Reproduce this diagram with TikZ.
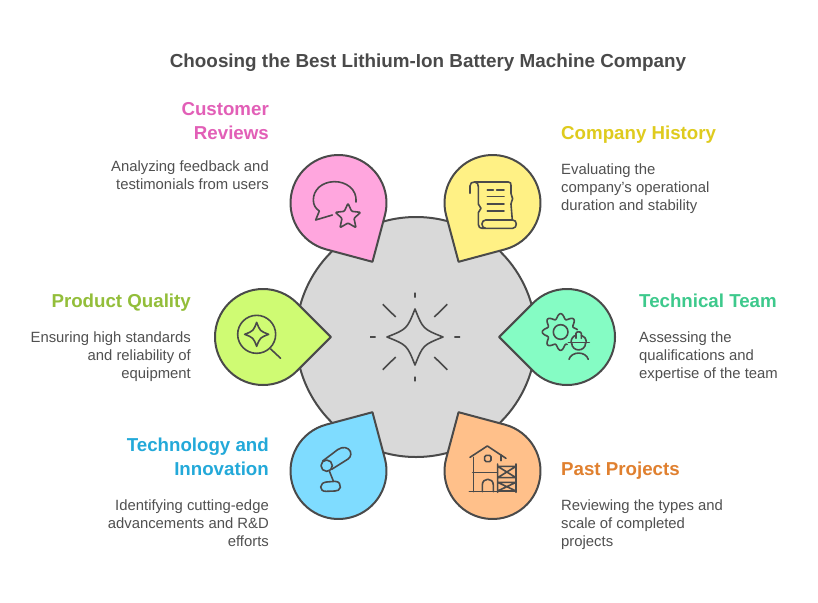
\documentclass[tikz,border=0pt]{standalone}
\usepackage{fontspec}
\setmainfont{Liberation Sans}
\definecolor{ink}{HTML}{4A4A4A}
\definecolor{bodyink}{HTML}{505050}
\definecolor{hub}{HTML}{D9D9D9}
\definecolor{cpink}{HTML}{FFA6DE}
\definecolor{cyellow}{HTML}{FFF185}
\definecolor{cgreen}{HTML}{CFFB73}
\definecolor{cteal}{HTML}{85FCC4}
\definecolor{cblue}{HTML}{7FDCFF}
\definecolor{corange}{HTML}{FFC08A}
\definecolor{tpink}{HTML}{E25FB7}
\definecolor{tyellow}{HTML}{DFCB1E}
\definecolor{tgreen}{HTML}{93BE3A}
\definecolor{tteal}{HTML}{3DC98C}
\definecolor{tblue}{HTML}{23A9D9}
\definecolor{torange}{HTML}{E0802F}
\tikzset{
  outline/.style={draw=ink,line width=2pt,line join=round},
  glyph/.style={draw=ink,line width=1.6pt,line cap=round,line join=round},
  headtext/.style={inner sep=0pt,font=\fontsize{18.7}{24}\selectfont\bfseries},
  titletext/.style={inner sep=0pt,font=\fontsize{18.85}{24}\selectfont\bfseries},
  bodytext/.style={inner sep=0pt,text=bodyink,font=\fontsize{14.85}{18}\selectfont},
  toleft/.style={align=right,anchor=north east},
  toright/.style={align=left,anchor=north west},
}
\newcommand{\petal}[4]{%
  \begin{scope}[shift={(#1,#2)},rotate=#3]
    \path[outline,fill=#4] (67.9pt,0pt) -- (33.94pt,33.94pt)
      arc[start angle=45,end angle=315,radius=48pt] -- cycle;
  \end{scope}}
\newcommand{\sparkle}[4]{% centre x,y, radius, bend
  (#1-#3,#2) .. controls (#1-#4,#2-#4) and (#1-#4,#2-#4) .. (#1,#2-#3)
  .. controls (#1+#4,#2-#4) and (#1+#4,#2-#4) .. (#1+#3,#2)
  .. controls (#1+#4,#2+#4) and (#1+#4,#2+#4) .. (#1,#2+#3)
  .. controls (#1-#4,#2+#4) and (#1-#4,#2+#4) .. (#1-#3,#2) -- cycle}
\begin{document}
\begin{tikzpicture}[x=1pt,y=-1pt]
\useasboundingbox (0,0) rectangle (818,602);
\fill[white] (0,0) rectangle (818,602);
\node[titletext,text=ink,anchor=base] (title) at (428,67) {Choosing the Best Lithium-Ion Battery Machine Company};
% hub
\path[outline,fill=hub] (416,337) circle[radius=120pt];
% petals
\petal{338.5}{203}{-60}{cpink}
\petal{492.5}{203}{-120}{cyellow}
\petal{263}{337}{0}{cgreen}
\petal{567}{337}{180}{cteal}
\petal{338.5}{471}{60}{cblue}
\petal{492.5}{471}{120}{corange}
% centre sparkle
\draw[glyph] \sparkle{415}{337}{28}{8};
\draw[glyph,line cap=butt]
  (415,292.7)--(415,297.5) (415,376.5)--(415,381.3)
  (370,337)--(375.7,337) (454.3,337)--(460,337)
  (382.7,304.3)--(395.7,317) (447.3,304.3)--(434.3,317)
  (382.7,369.7)--(395.7,357) (447.3,369.7)--(434.3,357);
% pink icon
\begin{scope}[shift={(280,140)},x=.3333pt,y=-.3333pt]
  \draw[glyph] (228,186) .. controls (232,148) and (198,124) .. (162,125)
    .. controls (125,126) and (100,150) .. (100,180)
    .. controls (100,195) and (107,206) .. (118,213)
    -- (107,240) -- (157,225);
  \draw[glyph,rounded corners=1pt]
    (204,190) -- (215,214) -- (242,217) -- (222,235) -- (228,263)
    -- (204,249) -- (180,263) -- (186,235) -- (166,217) -- (193,214) -- cycle;
\end{scope}
% yellow icon
\begin{scope}[shift={(280,140)},x=.3333pt,y=-.3333pt]
  \draw[glyph] (570,160) -- (570,138) .. controls (570,129) and (576,126) .. (584,126)
    -- (685,126) .. controls (692,126) and (693,130) .. (693,136) -- (693,160)
    .. controls (693,168) and (698,170) .. (698,176) .. controls (698,182) and (693,184) .. (693,192)
    -- (697,240);
  \draw[glyph] (584,126) .. controls (592,127) and (595,131) .. (595,140) -- (595,192)
    .. controls (595,198) and (603,199) .. (603,205) .. controls (603,211) and (595,212) .. (595,218)
    -- (595,253) .. controls (595,261) and (600,265) .. (606,265)
    -- (698,265) .. controls (705,265) and (709,259) .. (709,252)
    .. controls (709,245) and (705,240) .. (698,240) -- (617,240)
    .. controls (610,240) and (606,246) .. (606,252) .. controls (606,259) and (610,265) .. (617,265);
  \draw[glyph] (622,150)--(640,150) (650,150)--(672,150)
    (622,170)--(672,170) (622,192)--(672,192) (622,213)--(672,213);
\end{scope}
% green icon
\begin{scope}[shift={(200,270)},x=.3333pt,y=-.3333pt]
  \draw[glyph] (170,193) circle[radius=57];
  \draw[glyph] \sparkle{170}{193}{36}{10};
  \draw[glyph] (212,237) -- (242,265);
\end{scope}
% teal icon
\begin{scope}[shift={(200,270)},x=.3333pt,y=-.3333pt]
  \draw[glyph] plot[domain=62:352,samples=160,smooth,variable=\t]
    ({1082+(47.5+7.5*cos(8*\t))*cos(\t)},{186+(47.5+7.5*cos(8*\t))*sin(\t)});
  \draw[glyph] (1082,186) circle[radius=22];
  \draw[glyph] (1105,218) -- (1168,218);
  \draw[glyph] (1113,218) .. controls (1113,204) and (1122,197) .. (1128,196) (1144,196) .. controls (1152,198) and (1159,205) .. (1159,218);
  \draw[glyph] (1128,205) -- (1128,190) .. controls (1128,184) and (1144,184) .. (1144,190) -- (1144,205);
  \draw[glyph] (1115,218) .. controls (1115,247) and (1157,247) .. (1157,218);
  \draw[glyph] (1107,268) .. controls (1115,243) and (1157,243) .. (1165,268);
\end{scope}
% blue icon
\begin{scope}[shift={(280,400)},x=.3333pt,y=-.3333pt]
  \draw[glyph] (140,197) circle[radius=17];
  \draw[glyph] (128,183) -- (173,149) .. controls (188,138) and (205,142) .. (211,154)
    .. controls (216,167) and (208,176) .. (198,181) -- (155,208);
  \draw[glyph] (148,213) -- (160,243);
  \draw[glyph] (140,246) -- (165,244) .. controls (178,244) and (182,254) .. (181,262)
    .. controls (180,270) and (172,273) .. (165,273) -- (138,274)
    .. controls (128,274) and (122,269) .. (122,261) .. controls (122,252) and (130,247) .. (140,246);
\end{scope}
% orange icon
\begin{scope}[shift={(280,400)},x=.3333pt,y=-.3333pt]
  \draw[glyph] (570,172) -- (622,138) -- (678,175);
  \draw[glyph] (663,165) -- (663,182);
  \draw[glyph] (580,172) -- (580,275);
  \draw[glyph] (578,217) -- (652,217);
  \draw[glyph] (568,275) -- (652,275);
  \draw[glyph,rounded corners=1.5pt] (614,166) rectangle (633,185);
  \draw[glyph] (607,275) -- (607,255) .. controls (607,232) and (640,232) .. (640,255) -- (640,275);
  \draw[glyph] (653,192) -- (653,277) (708,192) -- (708,277)
    (653,199)--(708,199) (653,233)--(708,233) (653,247)--(708,247) (653,273)--(708,273)
    (653,199)--(708,233) (708,199)--(653,233)
    (653,247)--(708,273) (708,247)--(653,273);
\end{scope}
% labels
\node[headtext,toleft,text=tpink] (h1) at (269,98.2) {\strut Customer\\Reviews};
\node[bodytext,toleft] (b1) at (269,158.4) {\strut Analyzing feedback and\\testimonials from users};
\node[headtext,toright,text=tyellow] (h2) at (561,122.2) {\strut Company History};
\node[bodytext,toright] (b2) at (561,161.4) {\strut Evaluating the\\company's operational\\duration and stability};
\node[headtext,toleft,text=tgreen] (h3) at (191,290.2) {\strut Product Quality};
\node[bodytext,toleft] (b3) at (191,329.4) {\strut Ensuring high standards\\and reliability of\\equipment};
\node[headtext,toright,text=tteal] (h4) at (639,290.2) {\strut Technical Team};
\node[bodytext,toright] (b4) at (639,329.4) {\strut Assessing the\\qualifications and\\expertise of the team};
\node[headtext,toleft,text=tblue] (h5) at (269,434.2) {\strut Technology and\\Innovation};
\node[bodytext,toleft] (b5) at (269,497.4) {\strut Identifying cutting-edge\\advancements and R\&D\\efforts};
\node[headtext,toright,text=torange] (h6) at (561,458.2) {\strut Past Projects};
\node[bodytext,toright] (b6) at (561,497.4) {\strut Reviewing the types and\\scale of completed\\projects};
\end{tikzpicture}
\end{document}
